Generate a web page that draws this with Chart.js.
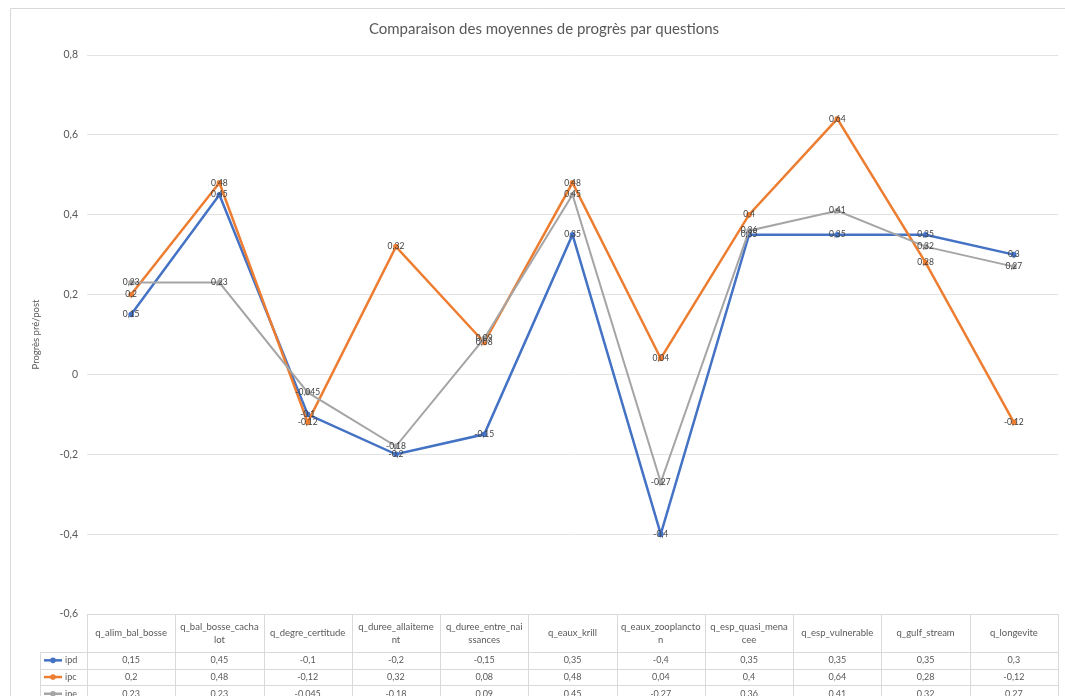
<!DOCTYPE html>
<html>
<head>
<meta charset="utf-8">
<script src="https://cdn.jsdelivr.net/npm/chart.js@4.4.1/dist/chart.umd.min.js"></script>
<style>
    html, body { margin: 0; padding: 0; background: #fff; overflow: hidden; }
    #progressChart { display: block; }
</style>
</head>
<body>
<canvas id="progressChart" width="1065" height="696"></canvas>
<script>
const categories = [
    'q_alim_bal_bosse', 'q_bal_bosse_cachalot', 'q_degre_certitude', 'q_duree_allaitement',
    'q_duree_entre_naissances', 'q_eaux_krill', 'q_eaux_zooplancton', 'q_esp_quasi_menacee',
    'q_esp_vulnerable', 'q_gulf_stream', 'q_longevite'
];
const seriesNames = ['ipd', 'ipc', 'ipe'];
const ipdValues = [0.15, 0.45, -0.1, -0.2, -0.15, 0.35, -0.4, 0.35, 0.35, 0.35, 0.3];
const ipcValues = [0.2, 0.48, -0.12, 0.32, 0.08, 0.48, 0.04, 0.4, 0.64, 0.28, -0.12];
const ipeValues = [0.23, 0.23, -0.045, -0.18, 0.09, 0.45, -0.27, 0.36, 0.41, 0.32, 0.27];
const yMin = -0.6;
const yMax = 0.8;
const yStep = 0.2;

const seriesColors = ['#4472C4', '#ED7D31', '#A5A5A5'];
const textColor = '#595959';
const lineColor = '#d9d9d9';
const fontFamily = 'Lato, "Open Sans", sans-serif';

function formatNumber(v) {
    return String(v).replace('.', ',');
}

// Excel wraps the long field names character by character
function wrapChars(ctx, text, maxWidth) {
    const lines = [];
    let current = '';
    for (const ch of text) {
        if (ctx.measureText(current + ch).width > maxWidth && current) {
            lines.push(current);
            current = ch;
        } else {
            current += ch;
        }
    }
    if (current) lines.push(current);
    return lines;
}

// Outer frame of the chart object
const framePlugin = {
    id: 'frame',
    beforeDraw: function (chart) {
        const ctx = chart.ctx;
        ctx.save();
        ctx.fillStyle = '#fff';
        ctx.fillRect(0, 0, chart.width, chart.height);
        ctx.strokeStyle = lineColor;
        ctx.lineWidth = 1;
        ctx.beginPath();
        ctx.moveTo(10.5, chart.height);
        ctx.lineTo(10.5, 8.5);
        ctx.lineTo(chart.width, 8.5);
        ctx.stroke();
        ctx.restore();
    }
};

// Value labels centered on each point
const pointLabelPlugin = {
    id: 'pointLabels',
    afterDatasetsDraw: function (chart) {
        const ctx = chart.ctx;
        ctx.save();
        ctx.font = '8.5px ' + fontFamily;
        ctx.fillStyle = '#404040';
        ctx.textAlign = 'center';
        ctx.textBaseline = 'middle';
        chart.data.datasets.forEach(function (ds, i) {
            const meta = chart.getDatasetMeta(i);
            meta.data.forEach(function (pt, j) {
                ctx.fillText(formatNumber(ds.data[j]), pt.x, pt.y);
            });
        });
        ctx.restore();
    }
};

// Excel-style data table under the plot
const dataTablePlugin = {
    id: 'dataTable',
    afterDraw: function (chart) {
        const ctx = chart.ctx;
        const area = chart.chartArea;
        const xScale = chart.scales.x;
        const n = categories.length;
        const colW = (area.right - area.left) / n;
        const top = area.bottom;
        const headerBottom = top + 38;
        const rowH = 16.7;
        const legendLeft = 40;
        const bottom = chart.height + 10;

        ctx.save();
        ctx.strokeStyle = lineColor;
        ctx.lineWidth = 1;
        ctx.beginPath();
        ctx.moveTo(area.left, top + 0.5);
        ctx.lineTo(area.right, top + 0.5);
        for (let r = 0; r < 3; r++) {
            const y = Math.round(headerBottom + r * rowH) + 0.5;
            ctx.moveTo(legendLeft, y);
            ctx.lineTo(area.right, y);
        }
        for (let c = 0; c <= n; c++) {
            const x = Math.round(area.left + c * colW) + 0.5;
            ctx.moveTo(x, top);
            ctx.lineTo(x, bottom);
        }
        ctx.moveTo(legendLeft + 0.5, headerBottom);
        ctx.lineTo(legendLeft + 0.5, bottom);
        ctx.stroke();

        // header labels
        ctx.fillStyle = textColor;
        ctx.textAlign = 'center';
        ctx.textBaseline = 'middle';
        ctx.font = '9.5px ' + fontFamily;
        categories.forEach(function (cat, i) {
            const cx = xScale.getPixelForValue(i);
            const lines = wrapChars(ctx, cat, colW - 8);
            const lh = 13;
            const startY = (top + headerBottom) / 2 - (lines.length - 1) * lh / 2;
            lines.forEach(function (line, k) {
                ctx.fillText(line, cx, startY + k * lh);
            });
        });

        // value rows with legend keys
        ctx.font = '9px ' + fontFamily;
        chart.data.datasets.forEach(function (ds, r) {
            const cy = headerBottom + r * rowH + rowH / 2;
            ctx.strokeStyle = seriesColors[r];
            ctx.lineWidth = 2.5;
            ctx.beginPath();
            ctx.moveTo(44, cy);
            ctx.lineTo(62, cy);
            ctx.stroke();
            ctx.fillStyle = seriesColors[r];
            ctx.beginPath();
            ctx.arc(53, cy, 2.8, 0, Math.PI * 2);
            ctx.fill();

            ctx.fillStyle = textColor;
            ctx.textAlign = 'left';
            ctx.fillText(seriesNames[r], 65, cy);
            ctx.textAlign = 'center';
            ds.data.forEach(function (v, i) {
                ctx.fillText(formatNumber(v), xScale.getPixelForValue(i), cy);
            });
        });
        ctx.restore();
    }
};

const seriesData = [ipdValues, ipcValues, ipeValues];

const ctx = document.getElementById('progressChart');
const progressChart = new Chart(ctx, {
    type: 'line',
    data: {
        labels: categories,
        datasets: seriesNames.map(function (name, i) {
            return {
                label: name,
                data: seriesData[i],
                borderColor: seriesColors[i],
                backgroundColor: seriesColors[i],
                borderWidth: i === 2 ? 2 : 2.5,
                pointRadius: 2.8,
                pointBorderWidth: 0,
                pointHoverRadius: 2.8,
                tension: 0,
                order: 3 - i
            };
        })
    },
    options: {
        responsive: false,
        animation: false,
        devicePixelRatio: 1,
        layout: {
            padding: { left: 30, right: 7, top: 0, bottom: 82 }
        },
        plugins: {
            legend: { display: false },
            tooltip: { enabled: false },
            title: {
                display: true,
                text: 'Comparaison des moyennes de progrès par questions',
                color: textColor,
                font: { family: fontFamily, size: 15, weight: 'normal' },
                padding: { top: 20, bottom: 17 }
            }
        },
        scales: {
            x: {
                type: 'category',
                offset: true,
                display: false
            },
            y: {
                min: yMin,
                max: yMax,
                border: { display: false },
                grid: { color: '#e3e3e3', drawTicks: false },
                ticks: {
                    stepSize: yStep,
                    padding: 9,
                    color: textColor,
                    font: { family: fontFamily, size: 10.5 },
                    callback: function (value) {
                        return formatNumber(Math.round(value * 10) / 10);
                    }
                },
                title: {
                    display: true,
                    text: 'Progrès pré/post',
                    color: textColor,
                    font: { family: fontFamily, size: 9.5 },
                    padding: 0
                },
                afterFit: function (scale) {
                    scale.width = 57;
                }
            }
        }
    },
    plugins: [framePlugin, pointLabelPlugin, dataTablePlugin]
});
</script>
</body>
</html>
